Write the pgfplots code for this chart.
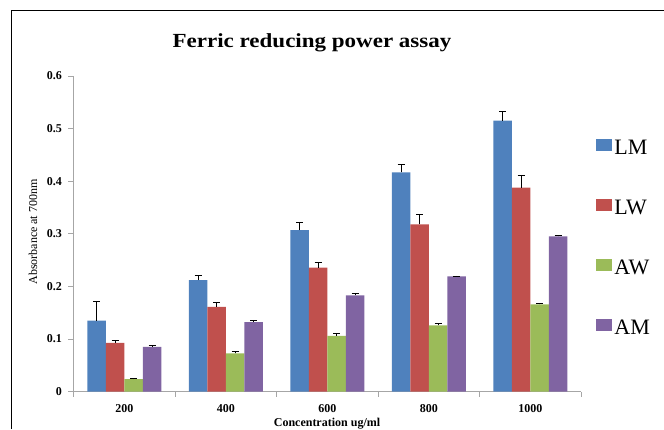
\documentclass[border=0pt]{standalone}
\usepackage{pgfplots}
\usepackage{pgfplotstable}
\usepackage{fontspec}
\setmainfont{Liberation Serif}
\pgfplotsset{compat=1.18}

\definecolor{cLM}{HTML}{4F81BD}
\definecolor{cLW}{HTML}{C0504D}
\definecolor{cAW}{HTML}{9BBB59}
\definecolor{cAM}{HTML}{8064A2}
\definecolor{axgray}{HTML}{A6A6A6}

% x = category index (200,400,...,1000), y = absorbance, e = error
\pgfplotstableread{
x y e
0 0.135 0.037
1 0.212 0.009
2 0.307 0.015
3 0.417 0.015
4 0.515 0.017
}\lm
\pgfplotstableread{
x y e
0 0.093 0.005
1 0.161 0.009
2 0.236 0.010
3 0.318 0.019
4 0.388 0.024
}\lw
\pgfplotstableread{
x y e
0 0.024 0.002
1 0.073 0.003
2 0.106 0.005
3 0.126 0.003
4 0.166 0.002
}\aw
\pgfplotstableread{
x y e
0 0.085 0.003
1 0.132 0.003
2 0.183 0.003
3 0.219 0.001
4 0.295 0.002
}\am

\begin{document}
\begin{tikzpicture}
\path[use as bounding box] (0pt,0pt) rectangle (664pt,429pt);
\draw[black, line width=0.9pt] (11.5pt,0pt) -- (11.5pt,418.5pt) -- (664pt,418.5pt);

\begin{axis}[
    at={(73.5pt,37.3pt)}, anchor=south west,
    scale only axis,
    width=507.5pt, height=315.7pt,
    ybar=0pt, bar width=18.5pt,
    xmin=-0.5, xmax=4.5,
    ymin=0, ymax=0.6,
    axis lines*=left,
    axis line style={axgray, line width=0.8pt},
    xtick={0,1,2,3,4},
    xticklabels={200,400,600,800,1000},
    major x tick style={draw=none},
    minor xtick={-0.5,0.5,1.5,2.5,3.5,4.5},
    minor x tick style={axgray, line width=0.8pt},
    minor tick length=5pt,
    ytick={0,0.1,...,0.6},
    y tick style={axgray, line width=0.8pt},
    major tick length=5pt,
    tick align=outside,
    /pgf/number format/.cd, fixed, precision=1, assume math mode=true, /pgfplots/.cd,
    ticklabel style={font=\fontsize{12}{14}\selectfont\bfseries},
    xticklabel style={yshift=-4pt},
    yticklabel style={xshift=-3pt},
    legend style={at={(1.03,0.805)}, anchor=north west, draw=none, fill=none,
        inner sep=0pt, row sep=40pt,
        font=\fontsize{22}{24}\selectfont},
    legend cell align=left,
    legend image code/.code={\fill[#1] (0pt,-3pt) rectangle (16pt,9pt);},
    error bars/y dir=plus,
    error bars/y explicit,
    error bars/error bar style={black, line width=0.8pt},
    error bars/error mark options={rotate=90, mark size=3.5pt, black, line width=0.8pt},
]
\addplot[fill=cLM, draw=none] table[x=x, y=y, y error=e] {\lm};
\addplot[fill=cLW, draw=none] table[x=x, y=y, y error=e] {\lw};
\addplot[fill=cAW, draw=none] table[x=x, y=y, y error=e] {\aw};
\addplot[fill=cAM, draw=none] table[x=x, y=y, y error=e] {\am};
\legend{LM,LW,AW,AM}
\end{axis}

\node[font=\fontsize{20}{23}\selectfont\bfseries] at (312pt,386pt) {\scalebox{1.15}[1]{Ferric reducing power assay}};
\node[rotate=90, font=\fontsize{12}{14}\selectfont] at (33pt,197pt) {Absorbance at 700nm};
\node[font=\fontsize{12}{14}\selectfont\bfseries] at (327pt,5pt) {Concentration ug/ml};
\end{tikzpicture}
\end{document}
